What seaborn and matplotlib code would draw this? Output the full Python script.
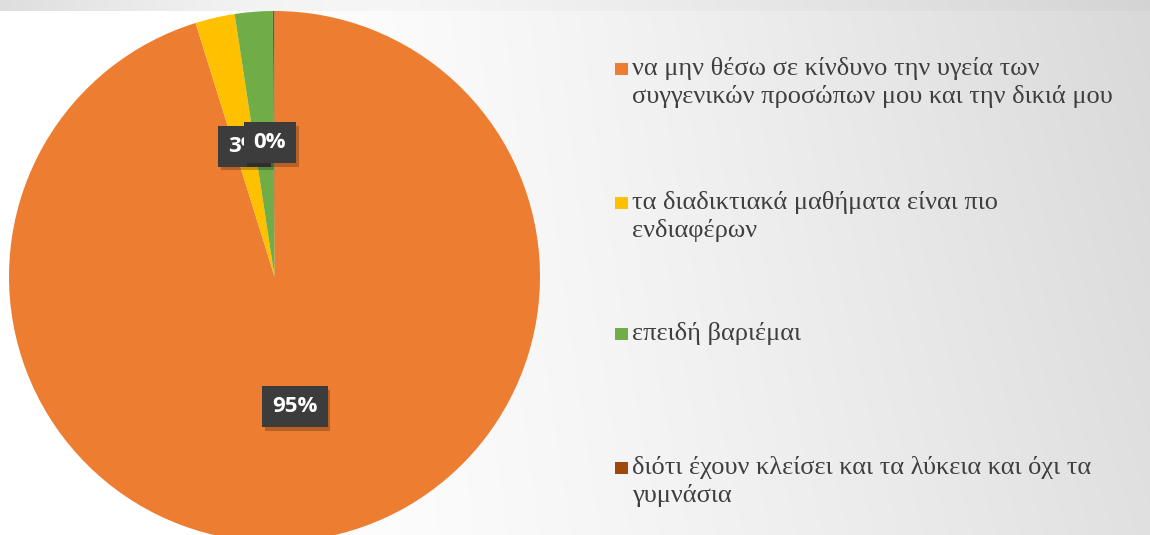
import numpy as np
import matplotlib
matplotlib.use("Agg")
import matplotlib.pyplot as plt
import matplotlib.patheffects as pe
from matplotlib.patches import Rectangle
import seaborn as sns

# ---- data ----
categories = [
    "να μην θέσω σε κίνδυνο την υγεία των\nσυγγενικών προσώπων μου και την δικιά μου",
    "τα διαδικτιακά μαθήματα είναι πιο\nενδιαφέρων",
    "επειδή βαριέμαι",
    "διότι έχουν κλείσει και τα λύκεια και όχι τα\nγυμνάσια",
]
values = [95.2, 2.4, 2.3, 0.1]
pct_labels = ["95%", "3%", "2%", "0%"]
colors = ["#ED7D31", "#FFC000", "#70AD47", "#9E480E"]

sns.set_theme(style="white")
plt.rcParams["font.family"] = ["Open Sans", "DejaVu Sans"]

W, H = 1150, 535
fig = plt.figure(figsize=(W / 100, H / 100), dpi=100)

# background gradient
bg = fig.add_axes([0, 0, 1, 1], zorder=-10)
xs = np.arange(W)
ys = np.arange(H)
X, Y = np.meshgrid(xs, ys)
t = np.clip((X - 250) / 900, 0, 1)
val = 1.0 - 0.12 * t ** 1.3 - 0.03 * t * np.clip(1 - Y / 535, 0, 1)
strip = (Y < 11)
val = np.where(strip, val - 0.02 - 0.11 * np.clip(1 - X / 420, 0, 1) ** 1.5, val)
bg.imshow(np.dstack([val, val, val]), extent=[0, 1, 0, 1], origin="upper",
          aspect="auto", vmin=0, vmax=1, interpolation="bilinear")
bg.axis("off")

# pie
cx, cy, r = 274.5, 276.5, 265.5
ax = fig.add_axes([(cx - r) / W, (H - cy - r) / H, 2 * r / W, 2 * r / H])
ax.pie(values, colors=colors, startangle=90, counterclock=False, radius=1,
       wedgeprops=dict(linewidth=0))
ax.set_xlim(-1, 1)
ax.set_ylim(-1, 1)
ax.set_aspect("equal")
ax.axis("off")

# data labels (green label fully hidden in the reference, so not drawn)
label_pos = {0: (0.077, -0.49), 1: (-0.112, 0.49), 3: (-0.017, 0.503)}
for i, (x, y) in label_pos.items():
    t_ = ax.text(x, y, pct_labels[i], ha="center", va="center", fontsize=16,
                 fontweight="bold", color="white",
                 bbox=dict(boxstyle="square,pad=0.45", fc="#3C3C3C", ec="none"))
    t_.get_bbox_patch().set_path_effects(
        [pe.SimplePatchShadow(offset=(2, -2.5), shadow_rgbFace="black", alpha=0.22),
         pe.Normal()])

# legend (manual layout)
leg_baseline = [75, 209, 340, 474]
line_px = 28
for lab, col, b in zip(categories, colors, leg_baseline):
    sy = b - 6.5
    fig.patches.append(Rectangle((615 / W, (H - sy - 6.5) / H), 12.5 / W, 12.5 / H,
                                 transform=fig.transFigure, fc=col, ec="none"))
    for k, line in enumerate(lab.split("\n")):
        fig.text(632 / W, (H - b - k * line_px) / H, line, ha="left", va="baseline",
                 fontsize=19, color="#3F3F3F",
                 family=["Liberation Serif", "DejaVu Serif"])

fig.savefig("out.png", dpi=100)
